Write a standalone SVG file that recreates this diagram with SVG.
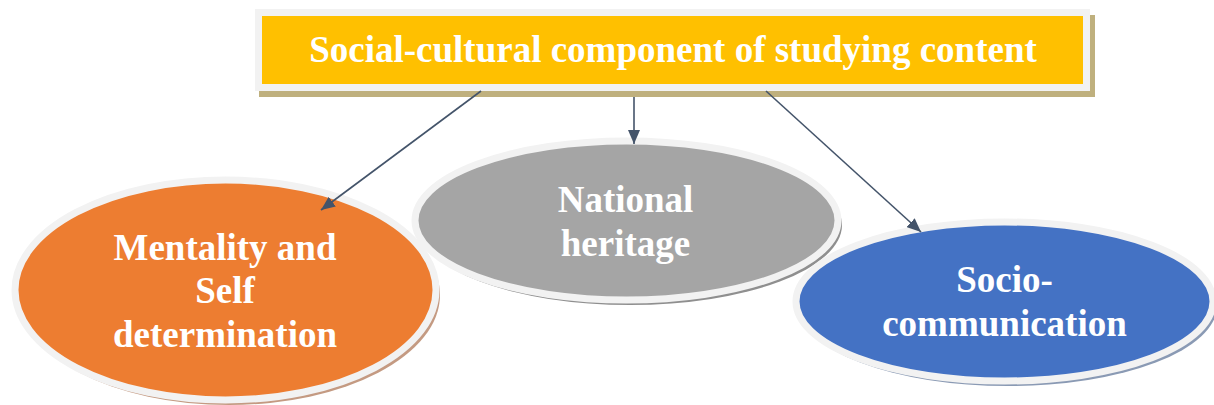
<svg xmlns="http://www.w3.org/2000/svg" width="1214" height="405" viewBox="0 0 1214 405">
<style>
.t{font-family:"Liberation Serif","Times New Roman",serif;font-weight:bold;fill:#ffffff;text-anchor:middle;font-size:37px}
.conn{stroke:#44546A;stroke-width:1.6;fill:none}
.rim{stroke:#F2F2F2;stroke-width:7}
</style>
<defs>
<marker id="ah" viewBox="0 0 10 10" refX="10" refY="5" markerWidth="8" markerHeight="8" markerUnits="userSpaceOnUse" orient="auto">
<path d="M0,0 L10,5 L0,10 z" fill="#44546A"/>
</marker>
<marker id="a" viewBox="0 0 14 12" refX="14" refY="6" markerWidth="14" markerHeight="12" markerUnits="userSpaceOnUse" orient="auto">
<path d="M0,0 L14,6 L0,12 z" fill="#44546A"/>
</marker>
</defs>
<g id="top">
<rect x="259" y="15" width="836" height="82" fill="#BFB07E"/>
<rect x="258.5" y="12.5" width="828" height="75" fill="#FFC000" class="rim"/>
<text class="t" x="673" y="62">Social-cultural component of studying content</text>
</g>
<g id="mentality">
<ellipse cx="229" cy="295" rx="211" ry="110" fill="#C49A82"/>
<ellipse cx="225.5" cy="290" rx="210.5" ry="110" fill="#ED7D31" class="rim"/>
<text class="t" x="225" y="260">Mentality and</text>
<text class="t" x="225" y="303">Self</text>
<text class="t" x="225" y="347">determination</text>
</g>
<g id="heritage">
<ellipse cx="630" cy="225" rx="212" ry="80" fill="#8F8F8F"/>
<ellipse cx="626.5" cy="220.5" rx="211.5" ry="79.5" fill="#A5A5A5" class="rim"/>
<text class="t" x="625.5" y="212">National</text>
<text class="t" x="625.5" y="256">heritage</text>
</g>
<g id="socio">
<ellipse cx="1008" cy="306" rx="209" ry="80" fill="#8A9AB4"/>
<ellipse cx="1004.5" cy="301.5" rx="208.5" ry="79.5" fill="#4472C4" class="rim"/>
<text class="t" x="1004.5" y="292">Socio-</text>
<text class="t" x="1004.5" y="336">communication</text>
</g>
<g id="connectors">
<line class="conn" x1="481" y1="91" x2="321" y2="210" marker-end="url(#a)"/>
<line class="conn" x1="634" y1="97" x2="634" y2="144" marker-end="url(#a)"/>
<line class="conn" x1="766" y1="91" x2="921" y2="232" marker-end="url(#a)"/>
</g>
</svg>
